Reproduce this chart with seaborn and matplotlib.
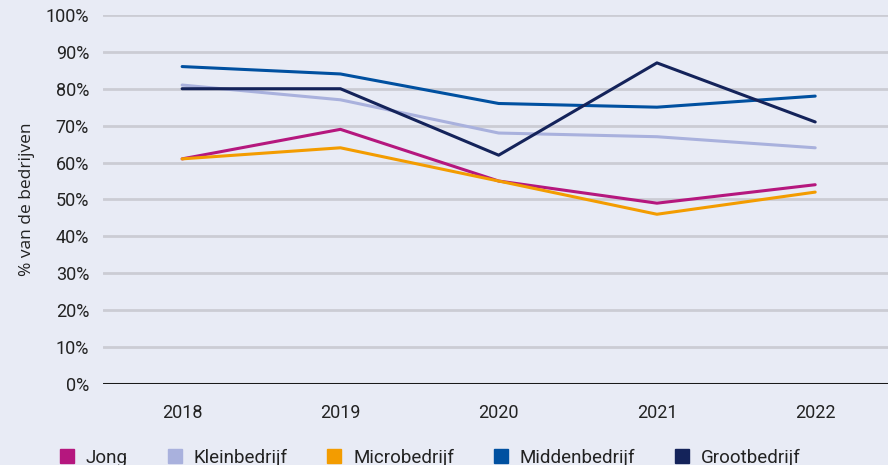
import pandas as pd
import seaborn as sns
import matplotlib.pyplot as plt
from matplotlib.lines import Line2D

# data
years = ['2018', '2019', '2020', '2021', '2022']
jong = [61, 69, 55, 49, 54]
kleinbedrijf = [81, 77, 68, 67, 64]
microbedrijf = [61, 64, 55, 46, 52]
middenbedrijf = [86, 84, 76, 75, 78]
grootbedrijf = [80, 80, 62, 87, 71]

series = {
    'Jong': jong,
    'Kleinbedrijf': kleinbedrijf,
    'Microbedrijf': microbedrijf,
    'Middenbedrijf': middenbedrijf,
    'Grootbedrijf': grootbedrijf,
}
colors = ['#B5177E', '#A9B1DD', '#F39C00', '#0050A0', '#14235A']

rows = []
for name, vals in series.items():
    for y, v in zip(years, vals):
        rows.append({'jaar': y, 'waarde': v, 'groep': name})
df = pd.DataFrame(rows)

bg = '#E8EBF5'
sns.set_theme(style='white')
plt.rcParams['font.family'] = ['Roboto', 'DejaVu Sans']

fig = plt.figure(figsize=(8.88, 4.65), dpi=100, facecolor=bg)
ax = fig.add_axes([0.116, 0.174, 0.884, 0.794])
ax.set_facecolor(bg)

sns.lineplot(data=df, x='jaar', y='waarde', hue='groep', palette=colors,
             linewidth=2.2, ax=ax, legend=False, zorder=3)

ax.set_ylim(0, 100)
ax.set_xlim(-0.5, 4.46)
ax.set_yticks(range(0, 101, 10))
ax.set_yticklabels([f'{t}%' for t in range(0, 101, 10)])
for t in range(10, 101, 10):
    ax.axhline(t, color='#CBCCD4', lw=2, zorder=1)
ax.axhline(0, color='#1A1A1A', lw=2.2, zorder=4)
for s in ax.spines.values():
    s.set_visible(False)
ax.tick_params(axis='both', length=0, labelsize=13, colors='#222222')
ax.tick_params(axis='y', pad=10)
ax.tick_params(axis='x', pad=14)
ax.set_xlabel('')
ax.set_ylabel('% van de bedrijven', fontsize=12.5, color='#222222',
              family='Open Sans', labelpad=8)

handles = [Line2D([], [], marker='s', ls='', color=c, markersize=10) for c in colors]
fig.legend(handles, list(series.keys()), loc='lower left', ncol=5,
           bbox_to_anchor=(0.046, -0.04), frameon=False, fontsize=13.5,
           handletextpad=0.5, columnspacing=2.0, handlelength=1.0,
           labelcolor='#222222')

fig.savefig('out.png', dpi=100, facecolor=bg)
